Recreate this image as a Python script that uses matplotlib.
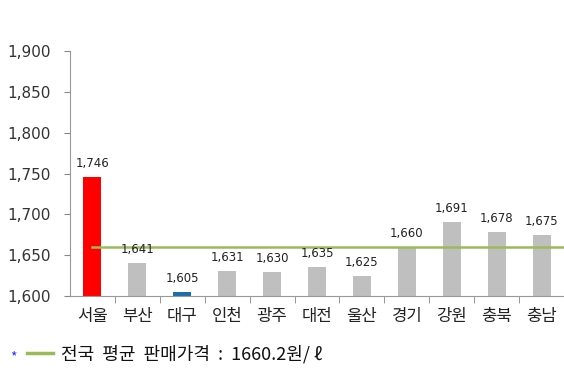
import matplotlib
matplotlib.use("Agg")
import matplotlib.pyplot as plt
import numpy as np
from matplotlib.lines import Line2D

plt.rcParams['font.family'] = ['Noto Sans CJK KR', 'DejaVu Sans']

# 지역별 휘발유 판매가격
regions = ['서울', '부산', '대구', '인천', '광주', '대전', '울산', '경기', '강원', '충북', '충남']
prices = [1746, 1641, 1605, 1631, 1630, 1635, 1625, 1660, 1691, 1678, 1675]
bar_colors = ['#FF0000', '#BFBFBF', '#1F6BB0', '#BFBFBF', '#BFBFBF', '#BFBFBF',
              '#BFBFBF', '#BFBFBF', '#BFBFBF', '#BFBFBF', '#BFBFBF']
national_avg = 1660.2
yticks = [1600, 1650, 1700, 1750, 1800, 1850, 1900]

fig = plt.figure(figsize=(5.64, 3.74), dpi=100)
ax = fig.add_axes([70/564, 1-296/374, 1-70/564, (296-51)/374])

x = np.arange(len(regions))
ax.bar(x, prices, width=0.4, color=bar_colors, bottom=0)
ax.set_xlim(-0.5, len(regions) - 0.5)
ax.set_ylim(1600, 1900)

for xi, v in zip(x, prices):
    ax.annotate(f'{v:,}', (xi, v), xytext=(0, 5), textcoords='offset points',
                ha='center', va='bottom', fontsize=8.5, color='#222222',
                family='DejaVu Sans')

# 전국 평균선
ax.plot([0, len(regions) - 0.5], [national_avg, national_avg], color='#9BBB59', lw=1.8)

ax.set_yticks(yticks)
ax.set_yticklabels([f'{t:,}' for t in yticks], fontsize=11, family='DejaVu Sans',
                   color='#333333')
ax.set_xticks(x)
ax.set_xticklabels(regions, fontsize=12, color='#222222')
ax.tick_params(axis='x', length=0, pad=9)
ax.set_xticks(np.arange(len(regions)) + 0.5, minor=True)
ax.tick_params(axis='x', which='minor', length=5, color='#888888', direction='out')
ax.tick_params(axis='y', length=4, color='#888888', pad=10)
for s in ['top', 'right']:
    ax.spines[s].set_visible(False)
ax.spines['left'].set_color('#999999')
ax.spines['bottom'].set_color('#999999')

# 범례 문구
fig.text(10/564, 1-357/374, '*', color='#3030FF', fontsize=10, va='center')
fig.add_artist(Line2D([27/564, 53/564], [1-353/374, 1-353/374], color='#9BBB59', lw=2.5))
fig.text(61/564, 1-354/374, '전국  평균  판매가격  :  1660.2원/ ℓ', fontsize=13,
         va='center', color='#111111')

fig.savefig('out.png', dpi=100)
